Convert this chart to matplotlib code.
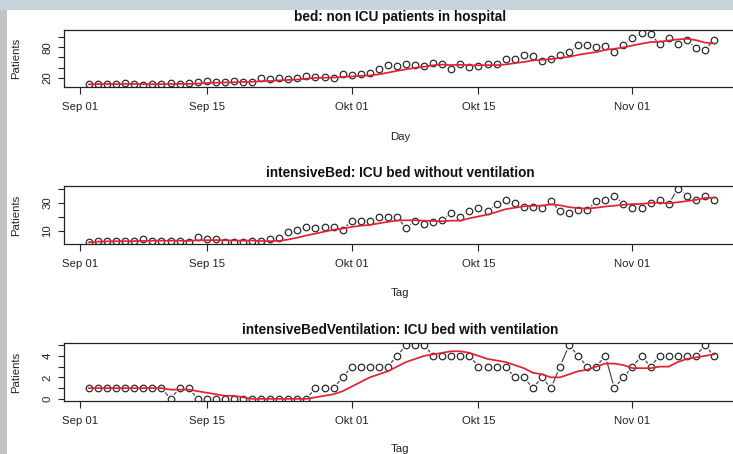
import numpy as np
import pandas as pd
import matplotlib
matplotlib.use("Agg")
import matplotlib.pyplot as plt
import matplotlib.dates as mdates
from matplotlib.patches import Rectangle

plt.rcParams['font.family'] = ['Liberation Sans', 'DejaVu Sans']

# ---------------- data ----------------
dates = pd.date_range('2020-09-02', periods=70, freq='D')

bed = [7, 8, 8, 7, 9, 7, 6, 7, 8, 10, 8, 9, 11, 14, 11, 11, 14, 12, 11, 19,
       17, 19, 17, 20, 24, 21, 22, 19, 27, 25, 28, 29, 37, 45, 44, 48, 45, 44, 49, 47,
       38, 48, 41, 44, 47, 48, 57, 56, 64, 63, 53, 56, 65, 71, 84, 84, 81, 83, 71, 84,
       98, 109, 106, 86, 99, 86, 94, 79, 75, 94]
bed_avg = [7.0, 7.5, 7.67, 7.5, 7.8, 7.67, 7.43, 7.43, 7.43, 7.71, 7.86, 7.86, 8.43, 9.57,
           10.14, 10.57, 11.14, 11.71, 12.0, 13.14, 13.57, 14.71, 15.57, 16.43, 18.14, 19.57,
           20.0, 20.29, 21.43, 22.57, 23.71, 24.43, 26.71, 30.0, 33.57, 36.57, 39.43, 41.71,
           44.57, 46.0, 45.0, 45.57, 44.57, 44.43, 44.86, 44.71, 46.14, 48.71, 51.0, 54.14,
           55.43, 56.71, 59.14, 61.14, 65.14, 68.0, 70.57, 74.86, 77.0, 79.71, 83.57, 87.14,
           90.29, 91.0, 93.29, 95.43, 96.86, 94.14, 89.29, 87.57]

icu = [2, 3, 3, 3, 3, 3, 4, 3, 3, 3, 3, 2, 6, 4, 4, 2, 2, 2, 3, 3,
       4, 5, 9, 11, 13, 12, 13, 13, 11, 17, 17, 17, 20, 20, 20, 12, 17, 15, 16, 18,
       23, 20, 24, 26, 24, 29, 32, 30, 27, 27, 26, 31, 24, 23, 25, 25, 31, 32, 35, 29,
       26, 26, 30, 32, 29, 40, 35, 32, 35, 32]
icu_avg = [2.0, 2.5, 2.67, 2.75, 2.8, 2.83, 3.0, 3.14, 3.14, 3.14, 3.14, 3.0, 3.43, 3.43,
           3.57, 3.43, 3.29, 3.14, 3.29, 2.86, 2.86, 3.0, 4.0, 5.29, 6.86, 8.14, 9.57, 10.86,
           11.71, 12.86, 13.71, 14.29, 15.43, 16.43, 17.43, 17.57, 17.57, 17.29, 17.14, 16.86,
           17.29, 17.29, 19.0, 20.29, 21.57, 23.43, 25.43, 26.43, 27.43, 27.86, 27.86, 28.86,
           28.14, 26.86, 26.14, 25.86, 26.43, 27.29, 27.86, 28.57, 29.0, 29.14, 29.86, 30.0,
           29.57, 30.29, 31.14, 32.0, 33.29, 33.57]

vent = [1, 1, 1, 1, 1, 1, 1, 1, 1, 0, 1, 1, 0, 0, 0, 0, 0, 0, 0, 0,
        0, 0, 0, 0, 0, 1, 1, 1, 2, 3, 3, 3, 3, 3, 4, 5, 5, 5, 4, 4,
        4, 4, 4, 3, 3, 3, 3, 2, 2, 1, 2, 1, 3, 5, 4, 3, 3, 4, 1, 2,
        3, 4, 3, 4, 4, 4, 4, 4, 5, 4]
vent_avg = [1.0, 1.0, 1.0, 1.0, 1.0, 1.0, 1.0, 1.0, 1.0, 0.857, 0.857, 0.857, 0.714, 0.571,
            0.429, 0.286, 0.286, 0.143, 0.0, 0.0, 0.0, 0.0, 0.0, 0.0, 0.0, 0.143, 0.286, 0.429,
            0.714, 1.143, 1.571, 2.0, 2.286, 2.571, 3.0, 3.429, 3.714, 4.0, 4.143, 4.286,
            4.429, 4.429, 4.286, 4.0, 3.714, 3.571, 3.429, 3.143, 2.857, 2.429, 2.286, 2.0,
            2.0, 2.286, 2.571, 2.714, 3.0, 3.286, 3.286, 3.143, 2.857, 2.857, 2.857, 3.0,
            3.0, 3.429, 3.714, 3.857, 4.0, 4.143]

titles = ['bed: non ICU patients in hospital',
          'intensiveBed: ICU bed without ventilation',
          'intensiveBedVentilation: ICU bed with ventilation']
xlabels = ['Day', 'Tag', 'Tag']
xtick_dates = pd.to_datetime(['2020-09-01', '2020-09-15', '2020-10-01', '2020-10-15', '2020-11-01'])
xtick_labels = ['Sep 01', 'Sep 15', 'Okt 01', 'Okt 15', 'Nov 01']
yticks = [[20, 40, 60, 80, 100], [10, 20, 30, 40], [0, 1, 2, 3, 4, 5]]
ytick_labels = [['20', '', '', '80', ''], ['10', '', '30', ''], ['0', '', '2', '', '4', '']]
ylims = [(1.1, 114.1), (0.8, 41.8), (-0.2, 5.2)]
series = [(bed, bed_avg), (icu, icu_avg), (vent, vent_avg)]

# ---------------- layout (pixels) ----------------
W, H = 733, 454
fig = plt.figure(figsize=(W / 100, H / 100), dpi=100)
fig.patch.set_facecolor('white')

# decorative frame of the screenshot
fig.patches.append(Rectangle((0, 0), 7 / W, 1, transform=fig.transFigure,
                             facecolor='#bfc3c6', edgecolor='none', zorder=-5))
fig.patches.append(Rectangle((0, 1 - 10 / H), 1, 10 / H, transform=fig.transFigure,
                             facecolor='#c8d4dc', edgecolor='none', zorder=-5))

panels_px = [(30, 87.3), (186, 244), (343, 401)]   # top, bottom
title_y = [16.7, 173, 330.5]
xlabel_y = [136.5, 293, 449]
left_px, right_px = 64, 739

x0 = mdates.date2num(dates[0]) - 2.76
x1 = mdates.date2num(dates[-1]) + 2.76

for i, ((vals, avg), (top, bot)) in enumerate(zip(series, panels_px)):
    ax = fig.add_axes([left_px / W, 1 - bot / H, (right_px - left_px) / W, (bot - top) / H])
    ax.plot(dates, vals, '-', color='#444444', lw=0.85, zorder=2)
    ax.plot(dates, vals, 'o', ms=7.8, mfc='white', mec='none', zorder=3)
    ax.plot(dates, vals, 'o', ms=4.7, mfc='none', mec='#2b2b2b', mew=0.9, zorder=4)
    ax.plot(dates, avg, '-', color='#e6202e', lw=1.25, zorder=5)
    ax.set_xlim(x0, x1)
    ax.set_ylim(*ylims[i])
    ax.set_xticks(mdates.date2num(xtick_dates))
    ax.set_xticklabels(xtick_labels)
    ax.set_yticks(yticks[i])
    ax.set_yticklabels(ytick_labels[i], rotation=90, va='center')
    ax.tick_params(axis='x', length=5, width=0.8, pad=5.5, labelsize=8.2, colors='#222')
    ax.tick_params(axis='y', length=4.3, width=0.8, pad=4.0, labelsize=8.2, colors='#222')
    for s in ax.spines.values():
        s.set_color('#222')
        s.set_linewidth(0.9)
        s.set_zorder(10)
    fig.text(400 / W, 1 - title_y[i] / H, titles[i], ha='center', va='center',
             fontsize=9.8, fontweight='bold', color='#111')
    fig.text(400 / W, 1 - xlabel_y[i] / H, xlabels[i], ha='center', va='center',
             fontsize=8.2, color='#222')
    fig.text(16 / W, 1 - (top + bot) / 2 / H, 'Patients', rotation=90, ha='center',
             va='center', fontsize=8.2, color='#222')

fig.savefig('out.png', dpi=100)
